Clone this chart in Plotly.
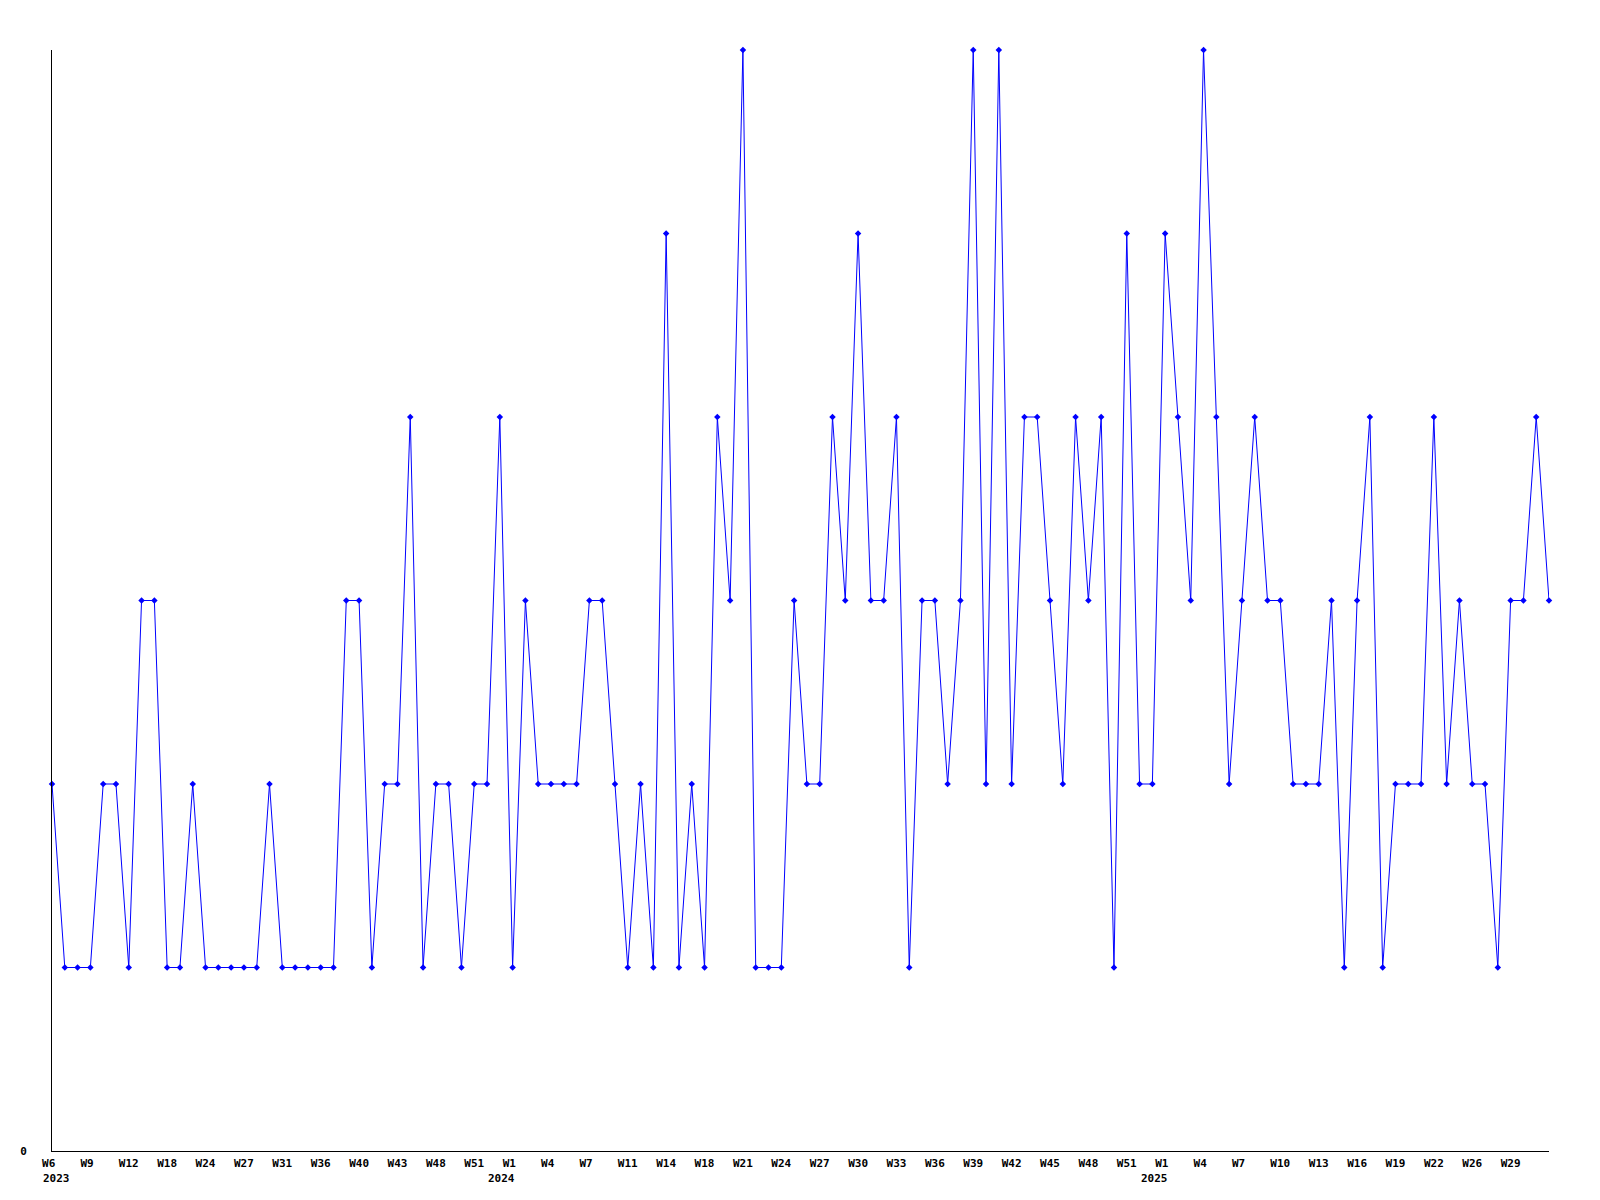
import plotly.graph_objects as go

# Weekly counts (one point per reported week, in order)
values = [
    2, 1, 1, 1, 2, 2, 1, 3, 3, 1,
    1, 2, 1, 1, 1, 1, 1, 2, 1, 1,
    1, 1, 1, 3, 3, 1, 2, 2, 4, 1,
    2, 2, 1, 2, 2, 4, 1, 3, 2, 2,
    2, 2, 3, 3, 2, 1, 2, 1, 5, 1,
    2, 1, 4, 3, 6, 1, 1, 1, 3, 2,
    2, 4, 3, 5, 3, 3, 4, 1, 3, 3,
    2, 3, 6, 2, 6, 2, 4, 4, 3, 2,
    4, 3, 4, 1, 5, 2, 2, 5, 4, 3,
    6, 4, 2, 3, 4, 3, 3, 2, 2, 2,
    3, 1, 3, 4, 1, 2, 2, 2, 4, 2,
    3, 2, 2, 1, 3, 3, 4, 3,
]

# Week labels shown under every third point
tick_labels = [
    "W6", "W9", "W12", "W18", "W24", "W27", "W31", "W36", "W40", "W43",
    "W48", "W51", "W1", "W4", "W7", "W11", "W14", "W18", "W21", "W24",
    "W27", "W30", "W33", "W36", "W39", "W42", "W45", "W48", "W51", "W1",
    "W4", "W7", "W10", "W13", "W16", "W19", "W22", "W26", "W29",
]
years = ["2023", "2024", "2025"]

label_step = 3
x = list(range(len(values)))
tickvals = [i * label_step for i in range(len(tick_labels))]
# pad two-character labels so they sit like the original left-aligned text
ticktext = [lab if len(lab) >= 3 else lab + "\u00a0" for lab in tick_labels]

# positions of year labels: first label and every "W1"
year_pos = [tickvals[0]] + [tickvals[i] for i, lab in enumerate(tick_labels) if lab == "W1"]

FONT = "DejaVu Sans Mono"

fig = go.Figure()
fig.add_trace(go.Scatter(
    x=x, y=values,
    mode="lines+markers",
    line=dict(color="#0000ff", width=1),
    marker=dict(symbol="diamond", size=5, color="#0000ff"),
    cliponaxis=False,
    showlegend=False,
    hoverinfo="x+y",
))

annotations = []
for k, (yr, pos) in enumerate(zip(years, year_pos)):
    annotations.append(dict(
        x=pos, y=0, xref="x", yref="paper",
        text=yr, showarrow=False,
        xanchor="left" if k == 0 else "center",
        xshift=-11, yshift=-27, yanchor="middle",
        font=dict(family=FONT, size=11, color="black", weight="bold"),
    ))

fig.update_layout(
    width=1600, height=1200,
    margin=dict(l=41, r=59, t=42, b=57, pad=0),
    paper_bgcolor="white", plot_bgcolor="white",
    xaxis=dict(
        range=[0, len(values) - 1],
        tickmode="array", tickvals=tickvals, ticktext=ticktext,
        tickangle=0,
        showgrid=False, zeroline=False,
        showline=True, linecolor="black", linewidth=1,
        ticks="", ticklabelstandoff=2,
        tickfont=dict(family=FONT, size=11, color="black", weight="bold"),
    ),
    yaxis=dict(
        range=[0, 6],
        tickmode="array", tickvals=[0], ticktext=["0"],
        showgrid=False, zeroline=False,
        showline=True, linecolor="black", linewidth=1,
        ticks="", ticklabelstandoff=22,
        tickfont=dict(family=FONT, size=11, color="black", weight="bold"),
    ),
    annotations=annotations,
)

fig.write_html("out.html")
